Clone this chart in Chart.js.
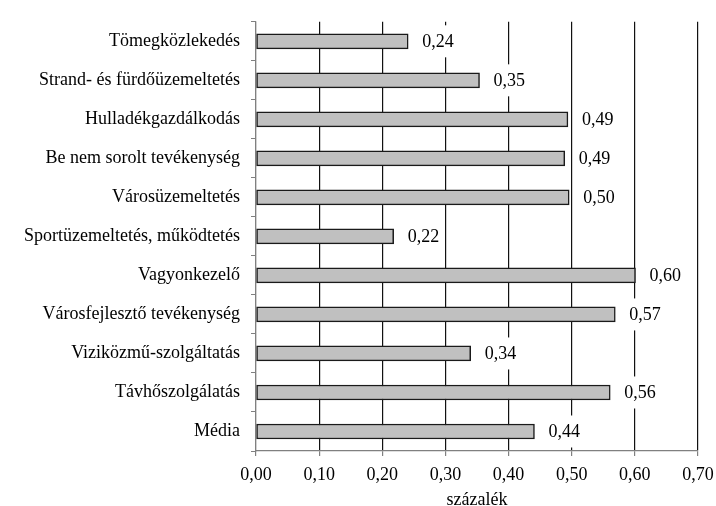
<!DOCTYPE html>
<html>
<head>
<meta charset="utf-8">
<script src="https://cdn.jsdelivr.net/npm/chart.js@4/dist/chart.umd.min.js"></script>
<style>
  html, body { margin: 0; padding: 0; background: #fff; }
  #wrap { width: 716px; height: 506px; }
</style>
</head>
<body>
<div id="wrap"><canvas id="chart"></canvas></div>
<script>
const categories = [
  "Tömegközlekedés",
  "Strand- és fürdőüzemeltetés",
  "Hulladékgazdálkodás",
  "Be nem sorolt tevékenység",
  "Városüzemeltetés",
  "Sportüzemeltetés, működtetés",
  "Vagyonkezelő",
  "Városfejlesztő tevékenység",
  "Viziközmű-szolgáltatás",
  "Távhőszolgálatás",
  "Média"
];
const values = [0.241, 0.354, 0.494, 0.489, 0.496, 0.218, 0.601, 0.569, 0.340, 0.561, 0.441];
const xTicks = [0, 0.1, 0.2, 0.3, 0.4, 0.5, 0.6, 0.7];
const xTitle = "százalék";

const FONT = "'Liberation Serif', 'Times New Roman', serif";
const fmt = v => v.toFixed(2).replace(".", ",");

// value labels with white box, drawn after the bars
const valueLabels = {
  id: "valueLabels",
  afterDatasetsDraw(chart) {
    const ctx = chart.ctx;
    const meta = chart.getDatasetMeta(0);
    ctx.save();
    ctx.font = "18px " + FONT;
    ctx.textBaseline = "middle";
    meta.data.forEach((bar, i) => {
      const txt = fmt(values[i]);
      const w = ctx.measureText(txt).width;
      const x = bar.x + 14;
      ctx.fillStyle = "#fff";
      ctx.fillRect(x - 5, bar.y - 16, w + 10, 32);
      ctx.fillStyle = "#000";
      ctx.fillText(txt, x, bar.y + 1);
    });
    ctx.restore();
  }
};

new Chart(document.getElementById("chart"), {
  type: "bar",
  data: {
    labels: categories,
    datasets: [{
      data: values,
      backgroundColor: "#c0c0c0",
      borderColor: "#1a1a1a",
      borderWidth: 1.5,
      borderSkipped: false,
      barThickness: 15
    }]
  },
  options: {
    indexAxis: "y",
    responsive: true,
    maintainAspectRatio: false,
    animation: false,
    layout: { padding: { top: 15, right: 0, left: 0, bottom: 0 } },
    plugins: { legend: { display: false }, tooltip: { enabled: false } },
    scales: {
      x: {
        min: 0,
        max: 0.7,
        afterBuildTicks: s => { s.ticks = xTicks.map(v => ({ value: v })); },
        afterFit: s => { s.height = 55; s.paddingRight = 18; },
        ticks: {
          color: "#000",
          font: { family: FONT, size: 18 },
          padding: 8,
          maxRotation: 0,
          callback: v => fmt(v)
        },
        grid: {
          color: c => (c.tick && c.tick.value === 0) ? "#808080" : "#111",
          tickColor: "#808080",
          tickLength: 5,
          lineWidth: 1.2
        },
        border: { color: "#808080", width: 1.2 },
        title: {
          display: true,
          text: xTitle,
          color: "#000",
          font: { family: FONT, size: 18 },
          padding: { top: 0, bottom: -5 }
        }
      },
      y: {
        afterFit: s => { s.width = 256; },
        ticks: {
          color: "#000",
          font: { family: FONT, size: 18 },
          padding: 11
        },
        grid: {
          drawOnChartArea: false,
          color: "#808080",
          tickLength: 5,
          offset: true
        },
        border: { color: "#808080", width: 1.2 }
      }
    }
  },
  plugins: [valueLabels]
});
</script>
</body>
</html>
